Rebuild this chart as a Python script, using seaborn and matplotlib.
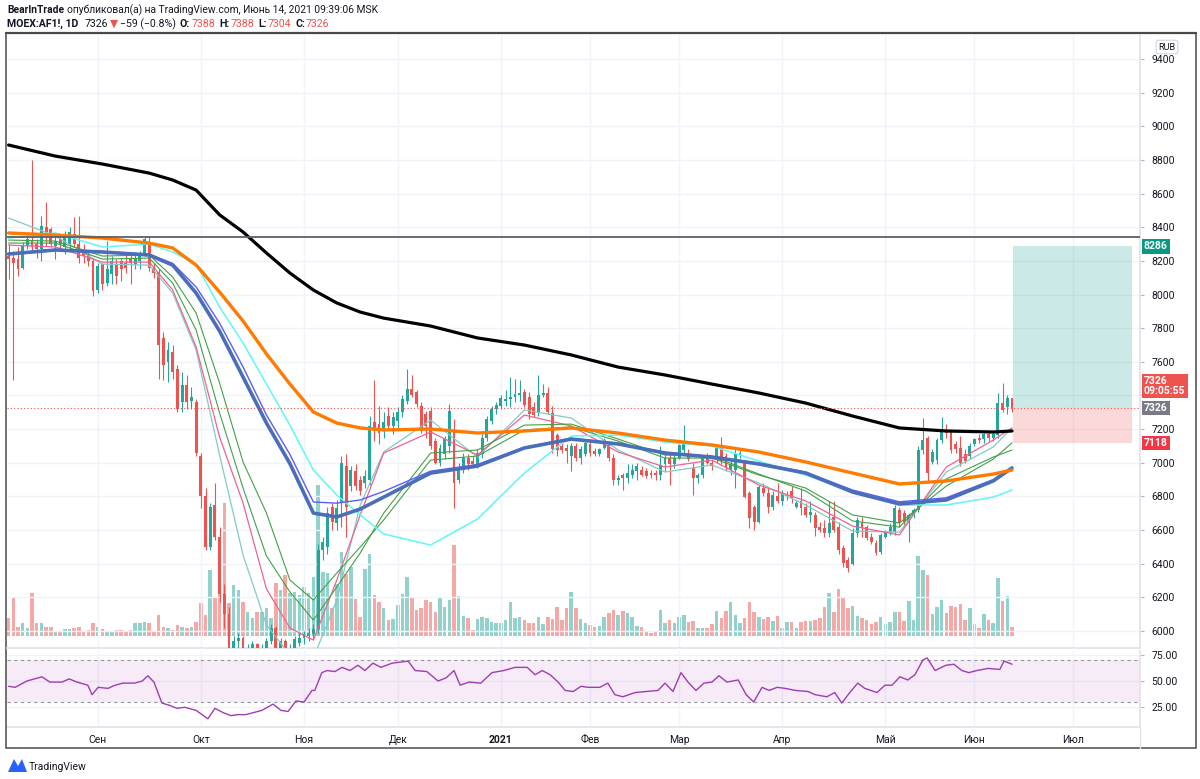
import numpy as np
import pandas as pd
import seaborn as sns
import matplotlib.pyplot as plt
from matplotlib.patches import Rectangle, Polygon
from matplotlib.lines import Line2D

# MOEX trading calendar, 5 Aug 2020 .. 11 Jun 2021
holidays = ["2020-11-04", "2020-12-31", "2021-01-01", "2021-01-07",
            "2021-02-23", "2021-03-08", "2021-05-03", "2021-05-10", "2021-06-14"]
dates = pd.bdate_range("2020-08-05", "2021-06-11", freq="C", holidays=holidays)

# daily candles, one line per month (Aug, Sep, ..., Jun)
opens = [
    8230, 8220, 8210, 8160, 8290, 8320, 8300, 8270, 8400, 8390, 8290, 8330, 8280, 8300, 8360, 8300, 8260, 8240, 8200,
    8030, 8180, 8070, 8120, 8180, 8200, 8190, 8210, 8180, 8200, 8240, 8310, 8160, 8135, 7740, 7600, 7660, 7560, 7360, 7460, 7370, 7360,
    7040, 6800, 6500, 6750, 6560, 6220, 6100, 5900, 5940, 5960, 5840, 5890, 5920, 5850, 5900, 5940, 6020, 5900, 5940, 5870, 5890, 5930,
    5960, 5970, 5980, 6010, 6480, 6500, 6740, 6640, 6760, 6980, 6860, 6950, 6900, 6880, 6900, 7240, 7230, 7190, 7280, 7220,
    7250, 7300, 7370, 7440, 7420, 7340, 7290, 7310, 7130, 7000, 7050, 7100, 7200, 6900, 6960, 7030, 7010, 6990, 7050, 7150, 7250, 7320,
    7340, 7370, 7380, 7390, 7400, 7420, 7390, 7330, 7296, 7400, 7415, 7296, 7165, 7100, 7090, 7040, 7100, 7030, 7050,
    7110, 7070, 7050, 7088, 7105, 7028, 6900, 6930, 6910, 6930, 6950, 6960, 6950, 6940, 6940, 6927, 6990, 7030, 6990,
    7028, 7076, 7050, 6969, 6910, 6930, 7030, 7000, 7034, 7088, 7040, 6960, 6960, 7050, 7005, 6820, 6737, 6648, 6850, 6820, 6740, 6800,
    6770, 6800, 6830, 6740, 6770, 6737, 6690, 6690, 6620, 6610, 6580, 6680, 6618, 6493, 6420, 6400, 6583, 6640, 6618, 6560, 6523, 6470,
    6560, 6590, 6588, 6719, 6700, 6640, 6690, 6719, 7076, 7147, 7005, 7016, 7135, 7195, 7183, 7110, 7088, 7050, 7040,
    7110, 7150, 7140, 7170, 7150, 7165, 7355, 7331, 7388,
]
highs = [
    8300, 8260, 8280, 8310, 8370, 8800, 8330, 8470, 8550, 8400, 8350, 8360, 8380, 8400, 8460, 8470, 8300, 8260, 8220,
    8190, 8190, 8320, 8230, 8210, 8220, 8250, 8240, 8240, 8260, 8350, 8350, 8190, 8150, 7780, 7720, 7700, 7580, 7540, 7520, 7450, 7380,
    7060, 6850, 6760, 6880, 6620, 6280, 6140, 5970, 5990, 5970, 5920, 5940, 5930, 5920, 5960, 6040, 6030, 5960, 5950, 5920, 5970, 5990,
    6000, 6020, 6040, 6520, 6560, 6740, 6760, 6780, 7040, 7050, 6980, 6990, 6920, 6960, 7280, 7490, 7340, 7300, 7330, 7300,
    7330, 7400, 7560, 7520, 7430, 7360, 7310, 7330, 7150, 7110, 7160, 7350, 7260, 7000, 7060, 7050, 7040, 7080, 7170, 7280, 7340, 7360,
    7400, 7430, 7510, 7500, 7490, 7440, 7420, 7360, 7520, 7470, 7450, 7340, 7180, 7120, 7110, 7120, 7120, 7100, 7140,
    7130, 7090, 7090, 7150, 7120, 7050, 6930, 6940, 6990, 6990, 7000, 6980, 6970, 6960, 6960, 7100, 7060, 7060, 7050,
    7110, 7225, 7080, 7000, 6940, 7040, 7060, 7020, 7090, 7153, 7060, 7020, 7080, 7090, 7010, 6830, 6750, 6870, 6880, 6850, 6830, 6880,
    6840, 6830, 6860, 6780, 6850, 6760, 6770, 6710, 6650, 6660, 6770, 6770, 6650, 6510, 6440, 6610, 6680, 6680, 6630, 6580, 6540, 6580,
    6600, 6640, 6750, 6740, 6720, 6700, 6730, 7100, 7266, 7160, 7080, 7150, 7272, 7230, 7200, 7130, 7160, 7080, 7120,
    7150, 7170, 7180, 7190, 7180, 7415, 7475, 7400, 7388,
]
lows = [
    8090, 7490, 8110, 8150, 8270, 8250, 8220, 8200, 8290, 8280, 8210, 8270, 8240, 8270, 8280, 8190, 8190, 8170, 7990,
    8010, 8030, 8050, 8060, 8060, 8080, 8130, 8060, 8150, 8150, 8230, 8140, 8100, 7500, 7490, 7480, 7500, 7300, 7300, 7320, 7320, 7040,
    6730, 6480, 6480, 6540, 6170, 6020, 5880, 5850, 5880, 5820, 5800, 5860, 5820, 5830, 5880, 5920, 5880, 5870, 5850, 5840, 5870, 5910,
    5920, 5940, 5950, 5980, 6420, 6460, 6600, 6600, 6620, 6560, 6830, 6840, 6810, 6850, 6870, 7130, 7110, 7150, 7200, 7170,
    7200, 7270, 7350, 7390, 7330, 7180, 7150, 7080, 6990, 6980, 7020, 7060, 6730, 6880, 6940, 6960, 6970, 6970, 7030, 7130, 7230, 7290,
    7320, 7340, 7330, 7360, 7370, 7330, 7260, 7270, 7280, 7390, 7290, 7060, 7040, 7060, 7000, 6950, 7010, 6990, 7040,
    7040, 7040, 7040, 7080, 7010, 6870, 6870, 6840, 6880, 6910, 6900, 6920, 6910, 6910, 6900, 6900, 6950, 6870, 6970,
    7020, 7060, 7010, 6808, 6880, 6910, 6990, 6960, 7000, 6990, 6950, 6930, 6850, 7030, 6790, 6613, 6600, 6640, 6800, 6700, 6720, 6760,
    6750, 6780, 6760, 6730, 6690, 6680, 6650, 6565, 6590, 6560, 6560, 6590, 6460, 6380, 6350, 6390, 6560, 6560, 6540, 6520, 6450, 6460,
    6550, 6570, 6570, 6620, 6630, 6530, 6670, 6710, 7050, 6880, 6990, 6990, 7120, 7150, 7060, 7060, 6980, 7000, 7020,
    7100, 7120, 7120, 7130, 7130, 7150, 7300, 7290, 7304,
]
closes = [
    8210, 8190, 8150, 8290, 8330, 8280, 8270, 8410, 8370, 8300, 8320, 8300, 8340, 8370, 8300, 8220, 8230, 8200, 8020,
    8170, 8060, 8150, 8200, 8110, 8150, 8160, 8190, 8220, 8240, 8330, 8160, 8130, 7700, 7580, 7670, 7540, 7320, 7460, 7360, 7390, 7060,
    6800, 6500, 6740, 6560, 6220, 6100, 5900, 5940, 5960, 5840, 5890, 5920, 5850, 5900, 5940, 6020, 5900, 5940, 5870, 5890, 5950, 5960,
    5980, 5990, 6010, 6480, 6530, 6700, 6650, 6730, 7000, 6740, 6960, 6860, 6830, 6920, 7220, 7190, 7180, 7240, 7220, 7270,
    7300, 7380, 7440, 7400, 7350, 7190, 7220, 7100, 7000, 7090, 7140, 7310, 6880, 6960, 7030, 6990, 6990, 7060, 7150, 7260, 7320, 7345,
    7385, 7380, 7390, 7410, 7415, 7343, 7290, 7285, 7403, 7415, 7302, 7080, 7076, 7076, 7070, 7100, 7030, 7080, 7120,
    7060, 7050, 7080, 7135, 7028, 6900, 6910, 6910, 6940, 6960, 6980, 6930, 6920, 6930, 6930, 6987, 7030, 6990, 7030,
    7105, 7118, 7020, 6910, 6930, 7030, 7000, 6980, 7088, 7010, 6970, 6990, 7050, 7060, 6796, 6672, 6648, 6856, 6820, 6737, 6810, 6770,
    6820, 6810, 6790, 6760, 6730, 6690, 6710, 6612, 6600, 6580, 6640, 6600, 6481, 6404, 6374, 6583, 6660, 6610, 6553, 6530, 6464, 6571,
    6590, 6620, 6731, 6642, 6650, 6690, 6720, 7076, 7135, 6939, 7064, 7135, 7195, 7180, 7076, 7080, 7000, 7010, 7100,
    7140, 7135, 7170, 7150, 7170, 7355, 7314, 7385, 7326,
]
volume = [
    18, 38, 9, 13, 8, 43, 13, 13, 9, 9, 5, 5, 7, 7, 8, 9, 5, 6, 13, 9, 7, 4, 5, 6, 6, 5, 6, 13, 13, 14, 13, 4, 21, 9, 8,
    6, 11, 9, 8, 9, 14, 33, 21, 66, 39, 51, 133, 33, 51, 46, 34, 24, 18, 24, 24, 28, 18, 53, 46, 61, 43, 44, 41, 49, 43, 59, 151, 64, 63, 28,
    52, 84, 62, 69, 37, 19, 67, 82, 41, 34, 28, 16, 17, 31, 42, 59, 39, 26, 28, 36, 34, 24, 38, 29, 36, 91, 40, 20, 18, 6, 17, 19, 18, 14, 13,
    13, 16, 34, 18, 19, 16, 13, 13, 19, 12, 19, 17, 29, 16, 28, 44, 28, 17, 13, 11, 9, 10, 19, 23, 26, 21, 25, 23, 19, 10, 9, 5, 3, 5, 26,
    13, 16, 13, 19, 21, 14, 15, 8, 8, 8, 12, 25, 18, 25, 34, 21, 13, 18, 34, 24, 19, 17, 19, 15, 20, 8, 14, 14, 8, 14, 15, 15, 16, 18, 29, 43,
    24, 47, 39, 28, 30, 20, 18, 16, 12, 14, 19, 12, 14, 24, 24, 15, 35, 16, 80, 66, 61, 22, 29, 36, 23, 30, 29, 32, 16, 28, 12, 8, 22, 16, 13, 58, 35, 40, 9,
]

# moving averages, read every few bars
ma_pos = [0, 10, 20, 30, 35, 40, 45, 50, 55, 60, 65, 70, 75, 80, 90, 100, 110, 120, 130, 140, 150, 160, 170, 180, 190, 200, 210, 214]
ma_black = [8889, 8823, 8776, 8722, 8681, 8621, 8474, 8372, 8247, 8128, 8027, 7950, 7896, 7860, 7813, 7742, 7700, 7641, 7569, 7522,
            7468, 7415, 7355, 7278, 7207, 7189, 7183, 7189]
ma_orange = [8366, 8354, 8336, 8306, 8277, 8175, 8015, 7843, 7647, 7468, 7302, 7236, 7207, 7195, 7201, 7177, 7189, 7207, 7177, 7135,
             7106, 7064, 7005, 6939, 6874, 6892, 6933, 6957]
ma_blue = [8241, 8265, 8253, 8235, 8175, 8009, 7783, 7510, 7236, 6995, 6701, 6678, 6725, 6796, 6939, 6981, 7088, 7141, 7112, 7058,
           7034, 6993, 6939, 6826, 6755, 6779, 6892, 6969]
ma_blue_thin = [8245, 8268, 8256, 8240, 8185, 8045, 7830, 7570, 7284, 7050, 6767, 6760, 6779, 6830, 6950, 6990, 7092, 7145, 7115, 7062,
                7038, 6998, 6945, 6838, 6768, 6792, 6900, 6975]
ma_cyan = [8336, 8366, 8283, 8300, 8253, 8181, 7926, 7712, 7468, 7224, 6957, 6808, 6690, 6577, 6511, 6666, 6939, 7159, 7165, 7123,
           7100, 7010, 6927, 6832, 6749, 6749, 6796, 6838]
ma_pink = [8294, 8283, 8193, 8193, 8027, 7688, 7153, 6761, 6250, 6018, 5946, 6303, 6690, 7058, 7183, 7046, 7284, 7219, 7064, 6975,
           7016, 6868, 6773, 6624, 6571, 6975, 7135, 7207]
ma_teal = [8455, 8348, 8181, 8175, 8009, 7670, 7046, 6452, 6036, 5857, 5839, 6184, 6749, 7064, 7254, 7034, 7314, 7266, 7076, 6945,
           6987, 6880, 6749, 6594, 6588, 6945, 7094, 7207]
ma_green_slow = [8324, 8318, 8229, 8235, 8104, 7890, 7474, 7005, 6701, 6303, 6184, 6345, 6499, 6660, 7016, 7040, 7195, 7213, 7129, 7028,
                 7028, 6927, 6850, 6690, 6642, 6862, 7022, 7118]
ma_green_fast = [8306, 8306, 8211, 8217, 8068, 7789, 7296, 6850, 6446, 6232, 6065, 6262, 6464, 6701, 7058, 7076, 7224, 7230, 7141, 7046,
                 7040, 6933, 6832, 6654, 6618, 6904, 7034, 7076]

# RSI(14) readings
rsi_pos = [0, 1.4, 3.9, 7.1, 8.8, 11.4, 12.9, 14.6, 16.9, 17.8, 19.1, 21.2, 22.7, 24.4, 26.9, 28.5, 29.7, 31, 32.7, 34.2,
           35.9, 37.6, 40, 42.5, 44, 45.7, 47.4, 48.9, 50.6, 52.3, 54, 56.4, 58.1, 59.6, 61.3, 63, 64.7, 65.3, 66.8, 67.9,
           69.6, 71.1, 72.8, 74.5, 76, 77.7, 79.4, 81.8, 83.5, 85.2, 86.7, 89.2, 91.6, 93.3, 95, 96.3, 98.2, 100.7, 103.1, 105.6,
           108, 110.6, 112.3, 113.8, 115.5, 117.2, 118.7, 120.4, 122.1, 123.6, 126.1, 127.8, 129.3, 131, 133.6, 135.9, 138.5, 140, 141.7, 143.4,
           144.9, 146.6, 148.3, 150, 151.5, 153.2, 155.6, 157.3, 158.9, 160.7, 162.2, 163.9, 165.6, 167.9, 170.5, 172, 174.5, 176.2, 177.7, 179.4,
           181.1, 182.6, 185.2, 186.9, 188.4, 190.1, 191.8, 193.3, 195, 195.9, 197.6, 199.9, 201.6, 203.3, 204.8, 206.5, 208.9, 211.4, 212.3, 214]
rsi_val = [45, 44, 50, 54, 49, 49, 52, 49, 46, 37, 44, 43, 46, 48, 48, 50, 55, 49, 29, 27,
           24, 25, 22, 14, 24, 20, 17, 18, 18, 20, 22, 28, 22, 21, 31, 30, 41, 41, 58, 60,
           59, 63, 60, 65, 60, 67, 63, 67, 68, 69, 60, 59, 50, 53, 60, 46, 49, 48, 58, 60,
           63, 63, 56, 60, 56, 49, 41, 40, 45, 44, 44, 48, 37, 35, 39, 40, 41, 48, 40, 58,
           49, 41, 48, 49, 55, 49, 51, 37, 30, 44, 41, 44, 43, 41, 40, 37, 35, 39, 29, 39,
           48, 43, 39, 46, 46, 54, 51, 56, 70, 72, 60, 65, 66, 60, 58, 60, 62, 61, 69, 66]

# levels and long position tool
level_line = 8342
entry, target, stop = 7326, 8286, 7118
box_start, box_end = 214.2, 239.6

month_names = {9: "Сен", 10: "Окт", 11: "Ноя", 12: "Дек", 1: "2021", 2: "Фев",
               3: "Мар", 4: "Апр", 5: "Май", 6: "Июн", 7: "Июл"}

UP, DOWN = "#26a69a", "#ef5350"
TXT = "#131722"
GRID = "#f0f3fa"

df = pd.DataFrame({"date": dates, "open": opens, "high": highs, "low": lows,
                   "close": closes, "volume": volume})
df["x"] = np.arange(len(df))
df["up"] = df["close"] >= df["open"]
colors = np.where(df["up"], UP, DOWN)

# month tick positions (calendar extended into the future for Jul)
cal = pd.bdate_range("2020-08-05", "2021-07-30", freq="C", holidays=holidays)
firsts = pd.Series(np.arange(len(cal)), index=cal).groupby([cal.year, cal.month]).first()
tick_pos, tick_lab = [], []
for (yr, mo), pos in firsts.items():
    if (yr, mo) == (2020, 8):
        continue
    tick_pos.append(pos)
    tick_lab.append(month_names[mo])

sns.set_theme(style="white")
plt.rcParams["font.family"] = ["Roboto", "DejaVu Sans"]

W, H = 1200, 779
fig = plt.figure(figsize=(12, 7.79), dpi=100)


def px_box(l, t, r, b):
    return [l / W, 1 - b / H, (r - l) / W, (b - t) / H]


ax = fig.add_axes(px_box(7, 35, 1140, 648))
ax_v = ax.twinx()
ax_r = fig.add_axes(px_box(7, 651, 1140, 727), sharex=ax)

# volume underneath
ax_v.bar(df["x"], df["volume"], width=0.75, color=colors, alpha=0.5, lw=0)
ax_v.set_ylim(-12, 601)
ax_v.axis("off")
ax_v.set_zorder(1)
ax.set_zorder(2)
ax.patch.set_visible(False)
ax_v.patch.set_visible(True)
ax_v.patch.set_facecolor("white")

# candles
ax.vlines(df["x"], df["low"], df["high"], colors=colors, lw=0.8, zorder=3)
body_lo = np.minimum(df["open"], df["close"])
body_h = np.maximum((df["close"] - df["open"]).abs(), 8)
ax.bar(df["x"], body_h, bottom=body_lo, width=0.62, color=colors, lw=0, zorder=4)

# moving averages
ma_styles = [
    (ma_teal, "#80cbc4", 0.9),
    (ma_pink, "#f06292", 0.9),
    (ma_green_fast, "#43a047", 0.8),
    (ma_green_slow, "#43a047", 0.8),
    (ma_cyan, "#5ff7f7", 1.1),
    (ma_blue_thin, "#5c5cff", 1.0),
    (ma_blue, "#4a6fb8", 2.6),
    (ma_orange, "#ff7a00", 2.4),
    (ma_black, "#000000", 2.3),
]
for vals, col, lw in ma_styles:
    sns.lineplot(x=ma_pos, y=vals, ax=ax, color=col, lw=lw, legend=False, zorder=5)

# horizontal level, last price line, position tool
ax.axhline(level_line, color="#5d606b", lw=1.3, zorder=5)
ax.axhline(entry, color=DOWN, lw=0.8, ls=(0, (1, 2)), zorder=5)
ax.add_patch(Rectangle((box_start, entry), box_end - box_start, target - entry,
                       fc=UP, alpha=0.24, lw=0, zorder=2))
ax.add_patch(Rectangle((box_start, stop), box_end - box_start, entry - stop,
                       fc=DOWN, alpha=0.22, lw=0, zorder=2))

ax.set_xlim(-0.34, 241.3)
ax.set_ylim(5899, 9543)
ax.set_xticks(tick_pos)
ax.tick_params(axis="x", length=0, labelbottom=False)
ax.yaxis.tick_right()
price_ticks = np.arange(6000, 9401, 200)
ax.set_yticks(price_ticks)
# the 7400 label sits under the live-price tag on the scale
ax.set_yticklabels(["" if p == 7400 else str(p) for p in price_ticks])
ax.tick_params(axis="y", labelsize=7.5, color="#b2b5be", labelcolor=TXT, length=3, pad=5, width=0.8)
ax.grid(True, color=GRID, lw=1)
ax.set_xlabel("")
ax.set_ylabel("")
for s in ["left", "top"]:
    ax.spines[s].set_visible(False)
for s in ["right", "bottom"]:
    ax.spines[s].set_color("#e0e3eb")

# price tags on the scale
tr = ax.get_yaxis_transform()
tag = dict(transform=tr, ha="left", fontsize=7.5, color="white", fontweight="bold",
           clip_on=False, zorder=10)
ax.text(1.0035, target, f"{target}", va="center",
        bbox=dict(boxstyle="square,pad=0.22", fc="#089981", ec="none"), **tag)
ax.text(1.0035, entry + 72, f"{entry}\n09:05:55", va="bottom", linespacing=1.0,
        bbox=dict(boxstyle="square,pad=0.22", fc="#ef5350", ec="none"), **tag)
ax.text(1.0035, entry, f"{entry}", va="center",
        bbox=dict(boxstyle="square,pad=0.22", fc="#787b86", ec="none"), **tag)
ax.text(1.0035, stop, f"{stop}", va="center",
        bbox=dict(boxstyle="square,pad=0.22", fc="#f23645", ec="none"), **tag)

# RSI pane
ax_r.axhspan(30, 70, color="#9c27b0", alpha=0.09, lw=0)
ax_r.axhline(70, color="#9598a1", lw=0.8, ls=(0, (3, 3)))
ax_r.axhline(30, color="#9598a1", lw=0.8, ls=(0, (3, 3)))
sns.lineplot(x=rsi_pos, y=rsi_val, ax=ax_r, color="#a03cb4", lw=1.0, legend=False)
ax_r.set_ylim(6.2, 78.6)
ax_r.yaxis.tick_right()
ax_r.set_yticks([25, 50, 75])
ax_r.set_yticklabels(["25.00", "50.00", "75.00"])
ax_r.tick_params(axis="y", labelsize=7.5, color="#b2b5be", labelcolor=TXT, length=3, pad=5, width=0.8)
ax_r.set_xticks(tick_pos)
ax_r.set_xticklabels(tick_lab)
ax_r.tick_params(axis="x", length=0, labelsize=7.5, labelcolor=TXT, pad=6)
for lab in ax_r.get_xticklabels():
    if lab.get_text() == "2021":
        lab.set_fontweight("bold")
ax_r.grid(True, color=GRID, lw=1)
ax_r.set_xlabel("")
ax_r.set_ylabel("")
for s in ["left", "top"]:
    ax_r.spines[s].set_visible(False)
for s in ["right", "bottom"]:
    ax_r.spines[s].set_color("#e0e3eb")

# outer frame and separators
fig.add_artist(Rectangle((6 / W, 1 - 748 / H), 1190 / W, 715 / H, transform=fig.transFigure,
                         fill=False, ec="#4a4a4a", lw=1.1))
fig.add_artist(Line2D([6 / W, 1196 / W], [1 - 33 / H, 1 - 33 / H], color="#4a4a4a", lw=1.6))
fig.add_artist(Line2D([1140 / W, 1140 / W], [1 - 748 / H, 1 - 727 / H], color="#e0e3eb", lw=1))

fig.text(1167 / W, 1 - 47 / H, "RUB", fontsize=6.5, color=TXT, ha="center", va="center",
         bbox=dict(boxstyle="round,pad=0.25", fc="white", ec="#d1d4dc", lw=0.8))

# header
renderer = fig.canvas.get_renderer()


def write_row(segments, x_px, base_px, size):
    x = x_px
    for txt, col, weight, gap in segments:
        t = fig.text(x / W, 1 - base_px / H, txt, color=col, fontweight=weight,
                     fontsize=size, ha="left", va="baseline")
        x += t.get_window_extent(renderer=renderer).width + gap


write_row([("BearInTrade", TXT, "bold", 3),
           ("опубликовал(а) на TradingView.com, Июнь 14, 2021 09:39:06 MSK", TXT, "normal", 0)],
          7, 13, 7.4)
write_row([("MOEX:AF1!, 1D", TXT, "bold", 6),
           ("7326", TXT, "normal", 2),
           ("▼", DOWN, "normal", 2),
           ("−59 (−0.8%)", TXT, "normal", 4),
           ("O:", TXT, "bold", 1), ("7388", DOWN, "normal", 4),
           ("H:", TXT, "bold", 1), ("7388", DOWN, "normal", 4),
           ("L:", TXT, "bold", 1), ("7304", DOWN, "normal", 4),
           ("C:", TXT, "bold", 1), ("7326", DOWN, "normal", 0)],
          7, 27, 7.6)

# footer logo
fig.add_artist(Polygon([(8 / W, 1 - 772 / H), (14 / W, 1 - 759 / H), (18 / W, 1 - 766 / H),
                        (22 / W, 1 - 759 / H), (27 / W, 1 - 772 / H)],
                       closed=True, transform=fig.transFigure, fc="#2962ff", ec="none"))
fig.text(29 / W, 1 - 770 / H, "TradingView", fontsize=7.5, color=TXT, ha="left", va="baseline")

fig.savefig("out.png", dpi=100)
